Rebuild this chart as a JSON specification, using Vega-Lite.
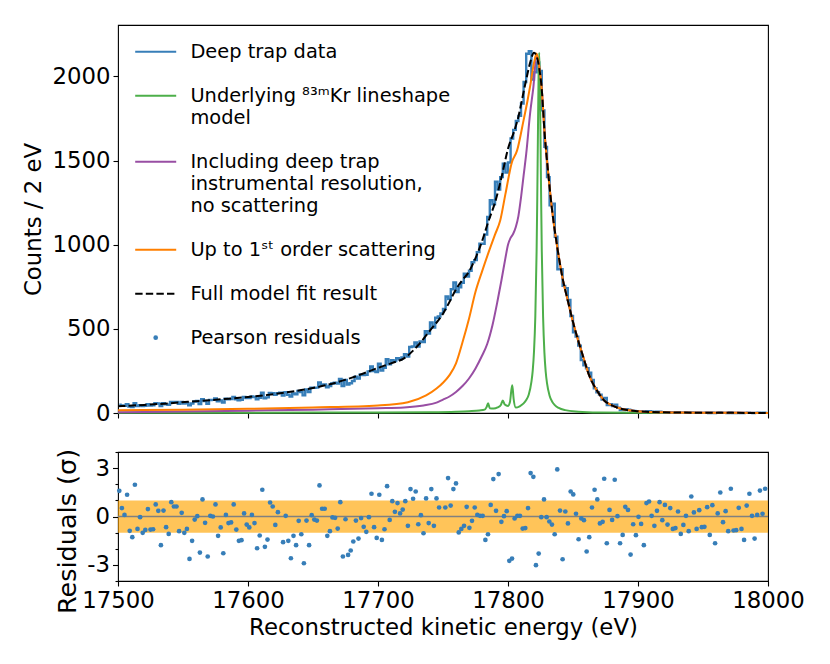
{
  "$schema": "https://vega.github.io/schema/vega-lite/v6.json",
  "padding": {"left": 22, "top": 24, "right": 10, "bottom": 10},
  "spacing": 21,
  "config": {
    "font": "DejaVu Sans",
    "view": {"stroke": "black", "strokeWidth": 1.1},
    "axis": {
      "domain": false, "grid": false,
      "tickColor": "black", "tickWidth": 1.1, "tickSize": 5,
      "labelFont": "DejaVu Sans", "labelFontSize": 22.8, "labelColor": "black", "labelPadding": 3,
      "titleFont": "DejaVu Sans", "titleFontSize": 22.8, "titleFontWeight": "normal", "titleColor": "black", "titlePadding": 8
    }
  },
  "datasets": {
    "bins": [
      {"E":17501,"c":50},{"E":17503,"c":45},{"E":17505,"c":43},{"E":17507,"c":52},{"E":17509,"c":38},{"E":17511,"c":36},{"E":17513,"c":58},{"E":17515,"c":41},{"E":17517,"c":47},{"E":17519,"c":41},
      {"E":17521,"c":43},{"E":17523,"c":53},{"E":17525,"c":45},{"E":17527,"c":46},{"E":17529,"c":58},{"E":17531,"c":56},{"E":17533,"c":41},{"E":17535,"c":58},{"E":17537,"c":51},{"E":17539,"c":49},
      {"E":17541,"c":65},{"E":17543,"c":65},{"E":17545,"c":66},{"E":17547,"c":55},{"E":17549,"c":65},{"E":17551,"c":56},{"E":17553,"c":60},{"E":17555,"c":46},{"E":17557,"c":56},{"E":17559,"c":68},
      {"E":17561,"c":71},{"E":17563,"c":53},{"E":17565,"c":82},{"E":17567,"c":71},{"E":17569,"c":54},{"E":17571,"c":77},{"E":17573,"c":78},{"E":17575,"c":86},{"E":17577,"c":69},{"E":17579,"c":75},
      {"E":17581,"c":62},{"E":17583,"c":85},{"E":17585,"c":81},{"E":17587,"c":83},{"E":17589,"c":95},{"E":17591,"c":81},{"E":17593,"c":76},{"E":17595,"c":78},{"E":17597,"c":95},{"E":17599,"c":89},
      {"E":17601,"c":89},{"E":17603,"c":99},{"E":17605,"c":95},{"E":17607,"c":81},{"E":17609,"c":91},{"E":17611,"c":121},{"E":17613,"c":87},{"E":17615,"c":93},{"E":17617,"c":119},{"E":17619,"c":118},
      {"E":17621,"c":108},{"E":17623,"c":118},{"E":17625,"c":121},{"E":17627,"c":103},{"E":17629,"c":123},{"E":17631,"c":108},{"E":17633,"c":98},{"E":17635,"c":116},{"E":17637,"c":111},{"E":17639,"c":131},
      {"E":17641,"c":124},{"E":17643,"c":105},{"E":17645,"c":140},{"E":17647,"c":124},{"E":17649,"c":150},{"E":17651,"c":149},{"E":17653,"c":151},{"E":17655,"c":182},{"E":17657,"c":167},{"E":17659,"c":170},
      {"E":17661,"c":152},{"E":17663,"c":160},{"E":17665,"c":175},{"E":17667,"c":180},{"E":17669,"c":175},{"E":17671,"c":202},{"E":17673,"c":160},{"E":17675,"c":196},{"E":17677,"c":169},{"E":17679,"c":177},
      {"E":17681,"c":190},{"E":17683,"c":215},{"E":17685,"c":204},{"E":17687,"c":229},{"E":17689,"c":226},{"E":17691,"c":227},{"E":17693,"c":247},{"E":17695,"c":276},{"E":17697,"c":249},{"E":17699,"c":243},
      {"E":17701,"c":293},{"E":17703,"c":252},{"E":17705,"c":268},{"E":17707,"c":319},{"E":17709,"c":289},{"E":17711,"c":314},{"E":17713,"c":309},{"E":17715,"c":325},{"E":17717,"c":319},{"E":17719,"c":330},
      {"E":17721,"c":349},{"E":17723,"c":335},{"E":17725,"c":392},{"E":17727,"c":395},{"E":17729,"c":419},{"E":17731,"c":395},{"E":17733,"c":425},{"E":17735,"c":421},{"E":17737,"c":486},{"E":17739,"c":472},
      {"E":17741,"c":538},{"E":17743,"c":507},{"E":17745,"c":566},{"E":17747,"c":573},{"E":17749,"c":592},{"E":17751,"c":618},{"E":17753,"c":692},{"E":17755,"c":677},{"E":17757,"c":735},{"E":17759,"c":775},
      {"E":17761,"c":719},{"E":17763,"c":747},{"E":17765,"c":774},{"E":17767,"c":827},{"E":17769,"c":810},{"E":17771,"c":845},{"E":17773,"c":896},{"E":17775,"c":908},{"E":17777,"c":956},{"E":17779,"c":1006},
      {"E":17781,"c":1005},{"E":17783,"c":1060},{"E":17785,"c":1164},{"E":17787,"c":1264},{"E":17789,"c":1240},{"E":17791,"c":1374},{"E":17793,"c":1328},{"E":17795,"c":1401},{"E":17797,"c":1481},{"E":17799,"c":1428},
      {"E":17801,"c":1488},{"E":17803,"c":1631},{"E":17805,"c":1682},{"E":17807,"c":1735},{"E":17809,"c":1765},{"E":17811,"c":1839},{"E":17813,"c":1966},{"E":17815,"c":2134},{"E":17817,"c":2150},{"E":17819,"c":1981},
      {"E":17821,"c":2024},{"E":17823,"c":2083},{"E":17825,"c":2032},{"E":17827,"c":1798},{"E":17829,"c":1581},{"E":17831,"c":1401},{"E":17833,"c":1234},{"E":17835,"c":1244},{"E":17837,"c":1047},{"E":17839,"c":854},
      {"E":17841,"c":854},{"E":17843,"c":755},{"E":17845,"c":742},{"E":17847,"c":671},{"E":17849,"c":576},{"E":17851,"c":480},{"E":17853,"c":454},{"E":17855,"c":400},{"E":17857,"c":314},{"E":17859,"c":284},
      {"E":17861,"c":266},{"E":17863,"c":240},{"E":17865,"c":196},{"E":17867,"c":147},{"E":17869,"c":123},{"E":17871,"c":109},{"E":17873,"c":80},{"E":17875,"c":89},{"E":17877,"c":47},{"E":17879,"c":53},
      {"E":17881,"c":41},{"E":17883,"c":50},{"E":17885,"c":31},{"E":17887,"c":17},{"E":17889,"c":17},{"E":17891,"c":23},{"E":17893,"c":20},{"E":17895,"c":7},{"E":17897,"c":12},{"E":17899,"c":8},
      {"E":17901,"c":11},{"E":17903,"c":8},{"E":17905,"c":4},{"E":17907,"c":11},{"E":17909,"c":10},{"E":17911,"c":7},{"E":17913,"c":5},{"E":17915,"c":7},{"E":17917,"c":7},{"E":17919,"c":4},
      {"E":17921,"c":5},{"E":17923,"c":3},{"E":17925,"c":5},{"E":17927,"c":2},{"E":17929,"c":2},{"E":17931,"c":4},{"E":17933,"c":1},{"E":17935,"c":2},{"E":17937,"c":3},{"E":17939,"c":1},
      {"E":17941,"c":4},{"E":17943,"c":2},{"E":17945,"c":1},{"E":17947,"c":2},{"E":17949,"c":1},{"E":17951,"c":1},{"E":17953,"c":2},{"E":17955,"c":0},{"E":17957,"c":2},{"E":17959,"c":0},
      {"E":17961,"c":1},{"E":17963,"c":3},{"E":17965,"c":1},{"E":17967,"c":1},{"E":17969,"c":0},{"E":17971,"c":3},{"E":17973,"c":0},{"E":17975,"c":0},{"E":17977,"c":1},{"E":17979,"c":0},
      {"E":17981,"c":0},{"E":17983,"c":1},{"E":17985,"c":2},{"E":17987,"c":1},{"E":17989,"c":0},{"E":17991,"c":1},{"E":17993,"c":2},{"E":17995,"c":1},{"E":17997,"c":2},{"E":17999,"c":1}
    ],
    "fit": [
      {"E":17500,"v":40},{"E":17520,"v":48},{"E":17540,"v":58},{"E":17560,"v":70},{"E":17580,"v":82},{"E":17600,"v":95},{"E":17620,"v":112},{"E":17640,"v":135},{"E":17660,"v":165},{"E":17680,"v":210},
      {"E":17700,"v":268},{"E":17710,"v":295},{"E":17720,"v":325},{"E":17730,"v":395},{"E":17740,"v":490},{"E":17750,"v":590},{"E":17755,"v":660},{"E":17760,"v":735},{"E":17765,"v":790},{"E":17770,"v":840},
      {"E":17775,"v":920},{"E":17780,"v":1020},{"E":17785,"v":1140},{"E":17790,"v":1250},{"E":17795,"v":1400},{"E":17800,"v":1570},{"E":17805,"v":1680},{"E":17808,"v":1760},{"E":17811,"v":1870},{"E":17814,"v":1980},
      {"E":17817,"v":2080},{"E":17820,"v":2140},{"E":17822,"v":2120},{"E":17824,"v":2050},{"E":17826,"v":1920},{"E":17828,"v":1680},{"E":17831,"v":1420},{"E":17834,"v":1200},{"E":17838,"v":980},{"E":17842,"v":800},
      {"E":17846,"v":668},{"E":17850,"v":540},{"E":17854,"v":430},{"E":17858,"v":330},{"E":17862,"v":233},{"E":17866,"v":165},{"E":17870,"v":115},{"E":17874,"v":74},{"E":17880,"v":45},{"E":17887,"v":25},
      {"E":17900,"v":11},{"E":17920,"v":4},{"E":17950,"v":1.5},{"E":18000,"v":0.5}
    ],
    "comp": [
      {"E":17500,"s":"kr","v":1},{"E":17600,"s":"kr","v":2},{"E":17700,"s":"kr","v":3},{"E":17740,"s":"kr","v":5},{"E":17760,"s":"kr","v":8},{"E":17770,"s":"kr","v":11},{"E":17778,"s":"kr","v":15},{"E":17782,"s":"kr","v":20},
      {"E":17783.5,"s":"kr","v":35},{"E":17784.7,"s":"kr","v":58},{"E":17786,"s":"kr","v":28},{"E":17789,"s":"kr","v":26},{"E":17792,"s":"kr","v":33},{"E":17794.5,"s":"kr","v":48},{"E":17796,"s":"kr","v":74},{"E":17797.5,"s":"kr","v":50},
      {"E":17800,"s":"kr","v":42},{"E":17801.5,"s":"kr","v":65},{"E":17802.5,"s":"kr","v":130},{"E":17803.3,"s":"kr","v":165},{"E":17804.3,"s":"kr","v":85},{"E":17806,"s":"kr","v":32},{"E":17809,"s":"kr","v":40},{"E":17812,"s":"kr","v":57},
      {"E":17814,"s":"kr","v":77},{"E":17816,"s":"kr","v":110},{"E":17818,"s":"kr","v":185},{"E":17819,"s":"kr","v":250},{"E":17820,"s":"kr","v":365},{"E":17821,"s":"kr","v":570},{"E":17822,"s":"kr","v":960},{"E":17822.5,"s":"kr","v":1265},
      {"E":17823,"s":"kr","v":1640},{"E":17823.5,"s":"kr","v":1990},{"E":17824,"s":"kr","v":2140},{"E":17824.5,"s":"kr","v":1990},{"E":17825,"s":"kr","v":1640},{"E":17825.5,"s":"kr","v":1265},{"E":17826,"s":"kr","v":960},{"E":17827,"s":"kr","v":570},
      {"E":17828,"s":"kr","v":360},{"E":17829,"s":"kr","v":245},{"E":17830,"s":"kr","v":177},{"E":17832,"s":"kr","v":103},{"E":17834,"s":"kr","v":67},{"E":17836,"s":"kr","v":47},{"E":17839,"s":"kr","v":30},{"E":17844,"s":"kr","v":17},
      {"E":17854,"s":"kr","v":8},{"E":17870,"s":"kr","v":3},{"E":17900,"s":"kr","v":1},{"E":18000,"s":"kr","v":0.3},
      {"E":17500,"s":"res","v":5},{"E":17550,"s":"res","v":9},{"E":17600,"s":"res","v":14},{"E":17650,"s":"res","v":20},{"E":17700,"s":"res","v":28},{"E":17720,"s":"res","v":33},{"E":17735,"s":"res","v":45},{"E":17745,"s":"res","v":62},
      {"E":17750,"s":"res","v":80},{"E":17755,"s":"res","v":98},{"E":17760,"s":"res","v":125},{"E":17765,"s":"res","v":160},{"E":17770,"s":"res","v":205},{"E":17775,"s":"res","v":265},{"E":17780,"s":"res","v":340},{"E":17784,"s":"res","v":410},
      {"E":17788,"s":"res","v":520},{"E":17792,"s":"res","v":668},{"E":17795,"s":"res","v":790},{"E":17798,"s":"res","v":920},{"E":17800,"s":"res","v":1000},{"E":17802,"s":"res","v":1040},{"E":17804,"s":"res","v":1065},{"E":17806,"s":"res","v":1105},
      {"E":17808,"s":"res","v":1170},{"E":17810,"s":"res","v":1280},{"E":17812,"s":"res","v":1410},{"E":17814,"s":"res","v":1539},{"E":17817,"s":"res","v":1780},{"E":17819.5,"s":"res","v":1935},{"E":17822,"s":"res","v":2130},{"E":17824,"s":"res","v":2060},
      {"E":17826,"s":"res","v":1920},{"E":17828,"s":"res","v":1680},{"E":17831,"s":"res","v":1420},{"E":17834,"s":"res","v":1200},{"E":17838,"s":"res","v":980},{"E":17842,"s":"res","v":800},{"E":17846,"s":"res","v":668},{"E":17850,"s":"res","v":540},
      {"E":17854,"s":"res","v":430},{"E":17858,"s":"res","v":330},{"E":17862,"s":"res","v":233},{"E":17866,"s":"res","v":165},{"E":17870,"s":"res","v":115},{"E":17874,"s":"res","v":74},{"E":17880,"s":"res","v":45},{"E":17887,"s":"res","v":25},
      {"E":17900,"s":"res","v":11},{"E":17920,"s":"res","v":4},{"E":17950,"s":"res","v":1.5},{"E":18000,"s":"res","v":0.5},
      {"E":17500,"s":"scat","v":17},{"E":17550,"s":"scat","v":20},{"E":17600,"s":"scat","v":25},{"E":17650,"s":"scat","v":33},{"E":17700,"s":"scat","v":45},{"E":17723,"s":"scat","v":64},{"E":17737,"s":"scat","v":104},{"E":17745,"s":"scat","v":145},
      {"E":17750,"s":"scat","v":180},{"E":17755,"s":"scat","v":225},{"E":17760,"s":"scat","v":295},{"E":17765,"s":"scat","v":420},{"E":17770,"s":"scat","v":560},{"E":17775,"s":"scat","v":720},{"E":17780,"s":"scat","v":840},{"E":17786,"s":"scat","v":975},
      {"E":17790,"s":"scat","v":1060},{"E":17794,"s":"scat","v":1143},{"E":17798,"s":"scat","v":1300},{"E":17803,"s":"scat","v":1490},{"E":17807,"s":"scat","v":1560},{"E":17812,"s":"scat","v":1740},{"E":17815,"s":"scat","v":1855},{"E":17817,"s":"scat","v":1940},
      {"E":17820,"s":"scat","v":2080},{"E":17822,"s":"scat","v":2135},{"E":17824,"s":"scat","v":2060},{"E":17826,"s":"scat","v":1920},{"E":17828,"s":"scat","v":1680},{"E":17831,"s":"scat","v":1420},{"E":17834,"s":"scat","v":1200},{"E":17838,"s":"scat","v":980},
      {"E":17842,"s":"scat","v":800},{"E":17846,"s":"scat","v":668},{"E":17850,"s":"scat","v":540},{"E":17854,"s":"scat","v":430},{"E":17858,"s":"scat","v":330},{"E":17862,"s":"scat","v":233},{"E":17866,"s":"scat","v":165},{"E":17870,"s":"scat","v":115},
      {"E":17874,"s":"scat","v":74},{"E":17880,"s":"scat","v":45},{"E":17887,"s":"scat","v":25},{"E":17900,"s":"scat","v":11},{"E":17920,"s":"scat","v":4},{"E":17950,"s":"scat","v":1.5},{"E":18000,"s":"scat","v":0.5}
    ],
    "resid": [
      {"E":17501,"r":1.59},{"E":17503,"r":0.52},{"E":17505,"r":0.1},{"E":17507,"r":1.35},{"E":17509,"r":-0.89},{"E":17511,"r":-1.28},{"E":17513,"r":1.97},{"E":17515,"r":-0.77},{"E":17517,"r":-0.04},{"E":17519,"r":-1.01},
      {"E":17521,"r":-0.83},{"E":17523,"r":0.46},{"E":17525,"r":-0.81},{"E":17527,"r":-0.79},{"E":17529,"r":0.75},{"E":17531,"r":0.35},{"E":17533,"r":-1.78},{"E":17535,"r":0.37},{"E":17537,"r":-0.66},{"E":17539,"r":-1.08},
      {"E":17541,"r":0.89},{"E":17543,"r":0.62},{"E":17545,"r":0.62},{"E":17547,"r":-0.91},{"E":17549,"r":0.23},{"E":17551,"r":-1.01},{"E":17553,"r":-0.77},{"E":17555,"r":-2.63},{"E":17557,"r":-1.51},{"E":17559,"r":-0.19},
      {"E":17561,"r":0.02},{"E":17563,"r":-2.24},{"E":17565,"r":1.06},{"E":17567,"r":-0.39},{"E":17569,"r":-2.48},{"E":17571,"r":0.04},{"E":17573,"r":0},{"E":17575,"r":0.75},{"E":17577,"r":-1.2},{"E":17579,"r":-0.68},
      {"E":17581,"r":-2.28},{"E":17583,"r":0.1},{"E":17585,"r":-0.41},{"E":17587,"r":-0.37},{"E":17589,"r":0.75},{"E":17591,"r":-0.81},{"E":17593,"r":-1.51},{"E":17595,"r":-1.47},{"E":17597,"r":0.19},{"E":17599,"r":-0.5},
      {"E":17601,"r":-0.68},{"E":17603,"r":0.1},{"E":17605,"r":-0.41},{"E":17607,"r":-1.97},{"E":17609,"r":-1.18},{"E":17611,"r":1.66},{"E":17613,"r":-1.88},{"E":17615,"r":-1.43},{"E":17617,"r":0.87},{"E":17619,"r":0.62},
      {"E":17621,"r":-0.52},{"E":17623,"r":0.27},
      {"E":17627,"r":-1.59},{"E":17629,"r":0.04},{"E":17631,"r":-1.51},{"E":17633,"r":-2.59},{"E":17635,"r":-1.2},{"E":17637,"r":-1.78},{"E":17639,"r":-0.27},{"E":17641,"r":-1.1},{"E":17643,"r":-2.9},{"E":17645,"r":-0.25},
      {"E":17647,"r":-1.78},{"E":17649,"r":0.08},{"E":17651,"r":-0.19},{"E":17653,"r":-0.25},{"E":17655,"r":1.93},{"E":17657,"r":0.48},{"E":17659,"r":0.48},{"E":17661,"r":-1.2},{"E":17663,"r":-0.91},{"E":17665,"r":-0.06},
      {"E":17667,"r":-0.08},{"E":17669,"r":-0.75},{"E":17671,"r":0.89},{"E":17673,"r":-2.48},{"E":17675,"r":-0.17},{"E":17677,"r":-2.38},{"E":17679,"r":-2.11},{"E":17681,"r":-1.55},{"E":17683,"r":-0.25},{"E":17685,"r":-1.37},
      {"E":17687,"r":-0.1},{"E":17689,"r":-0.64},{"E":17691,"r":-0.95},{"E":17693,"r":-0.04},{"E":17695,"r":1.41},{"E":17697,"r":-0.66},{"E":17699,"r":-1.33},{"E":17701,"r":1.35},{"E":17703,"r":-1.45},{"E":17705,"r":-0.79},
      {"E":17707,"r":1.88},{"E":17709,"r":-0.21},{"E":17711,"r":0.95},{"E":17713,"r":0.29},{"E":17715,"r":0.83},{"E":17717,"r":0.19},{"E":17719,"r":0.43},{"E":17721,"r":0.95},{"E":17723,"r":-0.58},{"E":17725,"r":1.7},
      {"E":17727,"r":1.1},{"E":17729,"r":1.55},{"E":17731,"r":-0.48},{"E":17733,"r":0.08},{"E":17735,"r":-1.04},{"E":17737,"r":1.12},{"E":17739,"r":-0.41},{"E":17741,"r":1.7},{"E":17743,"r":-0.58},{"E":17745,"r":1.12},
      {"E":17747,"r":0.56},
      {"E":17751.8,"r":0.56},{"E":17753.9,"r":2.38},{"E":17755.9,"r":0.68},{"E":17758.0,"r":1.7},{"E":17760.0,"r":2.05},{"E":17762.1,"r":-0.99},{"E":17764.1,"r":-0.77},{"E":17766.2,"r":-0.58},{"E":17768.2,"r":0.6},{"E":17770.3,"r":-0.7},
      {"E":17772.3,"r":-0.27},{"E":17774.4,"r":0.56},{"E":17776.4,"r":0.1},{"E":17778.5,"r":0.04},{"E":17780.5,"r":0.04},{"E":17782.6,"r":-1.45},{"E":17784.6,"r":-1.1},{"E":17786.7,"r":0.72},{"E":17788.7,"r":2.32},{"E":17790.8,"r":0.35},
      {"E":17792.8,"r":2.63},{"E":17794.9,"r":-0.33},{"E":17796.9,"r":0.02},{"E":17799.0,"r":0.33},{"E":17801.0,"r":-2.75},{"E":17803.1,"r":-2.61},{"E":17805.1,"r":-0.12},{"E":17807.2,"r":0.04},{"E":17809.2,"r":0.04},{"E":17811.3,"r":-0.75},
      {"E":17813.3,"r":-0.72},{"E":17815.4,"r":0.52},{"E":17817.4,"r":2.69},{"E":17819.5,"r":2.46},{"E":17821.5,"r":-3.02},{"E":17823.6,"r":-2.3},{"E":17825.6,"r":-0.04},{"E":17827.7,"r":1.06},{"E":17829.7,"r":-0.04},{"E":17831.8,"r":-0.31},
      {"E":17833.8,"r":-0.5},{"E":17835.9,"r":-1.1},{"E":17837.9,"r":2.92},{"E":17840.0,"r":0.37},{"E":17842.0,"r":-2.65},{"E":17844.1,"r":0.31},{"E":17846.1,"r":-0.43},{"E":17848.2,"r":1.55},{"E":17850.2,"r":1.37},{"E":17852.3,"r":0.17},
      {"E":17854.3,"r":-1.41},{"E":17856.4,"r":-0.12},{"E":17858.4,"r":-0.23},{"E":17860.5,"r":-2.17},{"E":17862.5,"r":-1.28},{"E":17864.6,"r":0.56},{"E":17866.6,"r":1.66},{"E":17868.7,"r":1.06},{"E":17870.7,"r":-0.43},{"E":17872.8,"r":-0.33},
      {"E":17874.0,"r":2.34},{"E":17876.0,"r":-1.66},{"E":17878.1,"r":0.41},{"E":17880.1,"r":-0.21},{"E":17882.1,"r":2.28},{"E":17884.2,"r":0.02},{"E":17886.2,"r":-1.66},{"E":17888.2,"r":-1.14},{"E":17890.2,"r":0.6},{"E":17892.3,"r":0.41},
      {"E":17894.3,"r":-2.36},{"E":17896.3,"r":-0.48},{"E":17898.4,"r":-1.16},{"E":17900.4,"r":-0.02},{"E":17902.4,"r":-0.46},{"E":17904.5,"r":-1.78},{"E":17906.5,"r":0.83},{"E":17908.5,"r":0.93},{"E":17910.5,"r":0.04},{"E":17912.6,"r":-0.58},
      {"E":17914.6,"r":0.35},{"E":17916.6,"r":0.89},{"E":17918.7,"r":-0.23},{"E":17920.7,"r":0.72},{"E":17922.7,"r":-0.5},{"E":17924.8,"r":0.52},{"E":17926.8,"r":-0.77},{"E":17928.8,"r":-0.72},{"E":17930.8,"r":0.31},{"E":17932.9,"r":-1.08},
      {"E":17934.9,"r":-0.52},{"E":17936.9,"r":0.04},{"E":17939.0,"r":-0.91},{"E":17941.0,"r":1.24},{"E":17943.0,"r":0.25},{"E":17945.1,"r":-0.77},{"E":17947.1,"r":0.39},{"E":17949.1,"r":-0.66},{"E":17951.1,"r":-0.64},{"E":17953.2,"r":0.58},
      {"E":17955.2,"r":-1.14},{"E":17957.2,"r":0.7},{"E":17959.3,"r":-1.66},{"E":17961.3,"r":0.19},{"E":17963.3,"r":1.49},{"E":17965.4,"r":-0.35},{"E":17967.4,"r":0.33},{"E":17969.4,"r":-0.91},{"E":17971.4,"r":1.72},{"E":17973.5,"r":-0.87},
      {"E":17975.5,"r":-0.85},{"E":17977.5,"r":0.54},{"E":17979.6,"r":-0.77},{"E":17981.6,"r":-1.45},{"E":17983.6,"r":0.68},{"E":17985.7,"r":1.41},{"E":17987.7,"r":0.04},{"E":17989.7,"r":-1.37},{"E":17991.7,"r":0.1},{"E":17993.8,"r":1.61},
      {"E":17995.8,"r":0.17},{"E":17997.8,"r":1.72}
    ]
  },
  "vconcat": [
    {
      "width": 650,
      "height": 388,
      "layer": [
        {
          "data": {"name": "bins"},
          "mark": {"type": "line", "interpolate": "step", "strokeWidth": 2.4},
          "encoding": {
            "x": {"field": "E", "type": "quantitative", "scale": {"domain": [17500, 18000], "nice": false},
                  "axis": {"title": null, "labels": false, "values": [17500, 17600, 17700, 17800, 17900, 18000]}},
            "y": {"field": "c", "type": "quantitative", "scale": {"domain": [0, 2305], "nice": false},
                  "axis": {"title": "Counts / 2 eV", "format": "d", "values": [0, 500, 1000, 1500, 2000], "titlePadding": 6}},
            "color": {
              "datum": "data", "type": "nominal", "title": null,
              "scale": {"domain": ["data", "kr", "res", "scat", "fit", "pearson"],
                        "range": ["#377eb8", "#4daf4a", "#984ea3", "#ff7f00", "black", "#377eb8"]},
              "legend": {
                "title": null, "orient": "none", "legendX": 28, "legendY": 17, "padding": 0,
                "labelFont": "DejaVu Sans", "labelFontSize": 19.4, "labelColor": "black", "labelLimit": 600,
                "labelOffset": 25, "rowPadding": 23,
                "symbolType": "stroke", "symbolSize": 1681, "symbolStrokeWidth": 2,
                "labelExpr": "datum.value == 'data' ? 'Deep trap data' : datum.value == 'kr' ? ['Underlying ⁸³ᵐKr lineshape', 'model'] : datum.value == 'res' ? ['Including deep trap', 'instrumental resolution,', 'no scattering'] : datum.value == 'scat' ? 'Up to 1ˢᵗ order scattering' : datum.value == 'fit' ? 'Full model fit result' : 'Pearson residuals'",
                "encode": {
                  "symbols": {"update": {
                    "shape": {"signal": "datum.value === 'pearson' ? 'circle' : 'stroke'"},
                    "size": {"signal": "datum.value === 'pearson' ? 22 : 1681"},
                    "fill": {"signal": "datum.value === 'pearson' ? '#377eb8' : 'transparent'"},
                    "strokeWidth": {"signal": "datum.value === 'pearson' ? 0 : 2"},
                    "strokeDash": {"signal": "datum.value === 'fit' ? [7.4, 3.2] : []"}
                  }},
                  "labels": {"update": {"lineHeight": {"value": 22.3}}}
                }
              }
            }
          }
        },
        {
          "data": {"name": "comp"},
          "mark": {"type": "line", "interpolate": "monotone", "strokeWidth": 2},
          "encoding": {
            "x": {"field": "E", "type": "quantitative"},
            "y": {"field": "v", "type": "quantitative"},
            "color": {"field": "s", "type": "nominal", "title": null}
          }
        },
        {
          "data": {"name": "fit"},
          "mark": {"type": "line", "interpolate": "monotone", "strokeWidth": 2, "strokeDash": [7.4, 3.2]},
          "encoding": {
            "x": {"field": "E", "type": "quantitative"},
            "y": {"field": "v", "type": "quantitative"},
            "color": {"datum": "fit", "type": "nominal", "title": null}
          }
        }
      ]
    },
    {
      "width": 650,
      "height": 129,
      "resolve": {"axis": {"y": "independent"}},
      "layer": [
        {
          "data": {"values": [{}]},
          "mark": {"type": "rect", "color": "#ffa500", "opacity": 0.65},
          "encoding": {
            "y": {"datum": -1, "type": "quantitative", "scale": {"domain": [-4, 4], "nice": false},
                  "axis": {"orient": "left", "title": "Residuals (σ)", "titleFontSize": 25.5, "titleY": 79, "titlePadding": 6,
                           "values": [-3, 0, 3], "tickSize": 5.5, "labelOverlap": false,
                           "labelExpr": "datum.value < 0 ? '-3' : datum.label"}},
            "y2": {"datum": 1}
          }
        },
        {
          "data": {"values": [{}]},
          "mark": {"type": "rule", "color": "#808080", "strokeWidth": 1.4},
          "encoding": {"y": {"datum": 0, "type": "quantitative",
                             "axis": {"orient": "left", "title": null, "labels": false, "tickSize": 3,
                                      "values": [-4, -2, -1, 1, 2, 4]}}}
        },
        {
          "data": {"name": "resid"},
          "mark": {"type": "circle", "size": 22, "color": "#377eb8", "opacity": 1},
          "encoding": {
            "x": {"field": "E", "type": "quantitative", "scale": {"domain": [17500, 18000], "nice": false},
                  "axis": {"title": "Reconstructed kinetic energy (eV)", "format": "d", "labelFlush": false,
                           "values": [17500, 17600, 17700, 17800, 17900, 18000], "titlePadding": 5}},
            "y": {"field": "r", "type": "quantitative", "axis": null}
          }
        }
      ]
    }
  ],
  "resolve": {"scale": {"color": "independent"}, "legend": {"color": "independent"}}
}
